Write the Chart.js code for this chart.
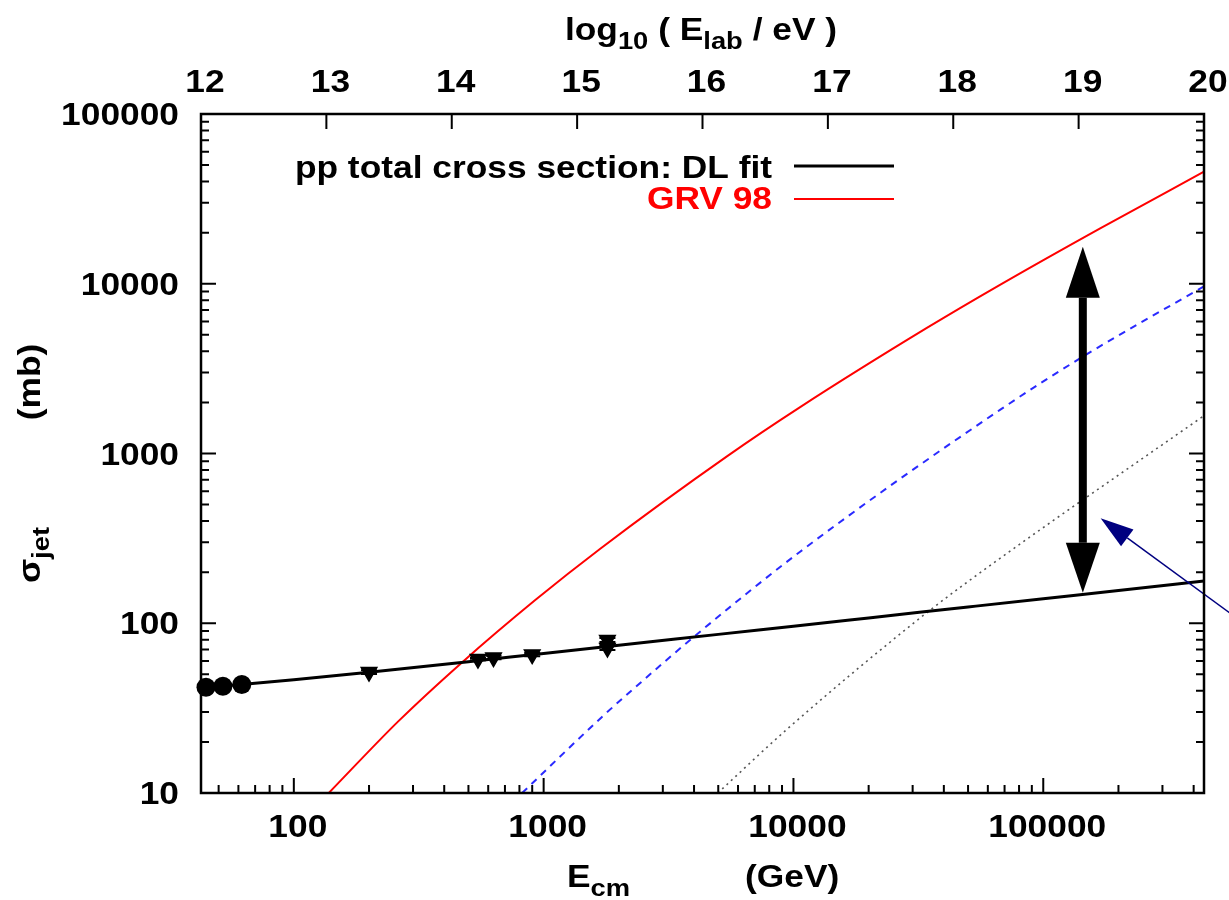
<!DOCTYPE html>
<html>
<head>
<meta charset="utf-8">
<script src="https://cdn.jsdelivr.net/npm/chart.js@4.4.1/dist/chart.umd.min.js"></script>
<style>
  html, body { margin: 0; padding: 0; background: #ffffff; }
  #wrap { width: 1229px; height: 900px; }
</style>
</head>
<body>
<div id="wrap"><canvas id="chart" width="1229" height="900"></canvas></div>
<script>
// ---- values (E_cm in GeV, cross sections in mb) ----
// pp total cross section, DL fit
const dlEnergy = [42.5, 60, 100, 200, 500, 1000, 2000, 5000, 10000, 20000, 50000, 100000, 200000, 440000];
const dlSigma  = [41.7, 43.4, 46.5, 51.5, 59.4, 66.4, 74.1, 86.0, 96.1, 107.5, 124.7, 139.5, 156.0, 177.5];

// jet cross section with GRV 98 parton densities
const grvEnergy = [138, 263, 470, 923, 1680, 5470, 10600, 34200, 67100, 169000, 440000];
const grvSigma  = [10, 26.6, 58.6, 136.5, 274, 972, 1870, 5490, 9850, 21200, 45700];

// higher jet threshold (dashed)
const dashEnergy = [820, 1727, 2320, 4100, 10600, 67100, 149000, 440000];
const dashSigma  = [10, 28.4, 41.8, 85.9, 263, 1807, 3835, 9650];

// highest jet threshold (dotted)
const dotEnergy = [4980, 9530, 34600, 67100, 440000];
const dotSigma  = [10, 24.1, 117, 241, 1670];

// measured total cross sections: ISR (circles)
const isrEnergy = [44.5, 52.0, 61.9];
const isrSigma  = [42.0, 42.5, 43.6];

// measured total cross sections: collider (triangles), with errors
const colEnergy = [200, 546, 630, 900, 1800, 1800];
const colSigma  = [51.6, 61.5, 62.8, 65.4, 79.7, 71.5];
const colError  = [1.3, 0.9, 1.5, 1.4, 2.2, 2.0];

// double arrow between total and jet cross section
const gapArrowEnergy = 144000;
const gapArrowSigma  = [151, 16500];

// pointer arrow (tail leaves the frame on the right)
const pointerTip  = { e: 169700, s: 415 };
const pointerTail = { e: 612000, s: 104 };

// axes
const xRange = [42.5, 440000];
const yRange = [10, 100000];
const xTickValues = [100, 1000, 10000, 100000];
const xTickLabels = ['100', '1000', '10000', '100000'];
const yTickValues = [10, 100, 1000, 10000, 100000];
const yTickLabels = ['10', '100', '1000', '10000', '100000'];
const topTickValues = [12, 13, 14, 15, 16, 17, 18, 19, 20];
const topTickLabels = ['12', '13', '14', '15', '16', '17', '18', '19', '20'];

const zip = (xs, ys) => xs.map((v, i) => ({ x: v, y: ys[i] }));

// ---- text helpers: bold sans, slightly widened, with subscripts ----
const FONT = '"Liberation Sans", Arial, Helvetica, sans-serif';
const SIZE = 31;
const SUB = 24;
const STRETCH = 1.14;

function richText(ctx, parts, x, y, align, color, rot) {
  ctx.save();
  ctx.translate(x, y);
  if (rot) ctx.rotate(rot);
  ctx.fillStyle = color || '#000';
  ctx.textAlign = 'left';
  ctx.textBaseline = 'alphabetic';
  const widths = parts.map(p => {
    ctx.font = `bold ${p.sub ? SUB : SIZE}px ${FONT}`;
    return ctx.measureText(p.t).width * STRETCH;
  });
  const total = widths.reduce((a, b) => a + b, 0);
  let cx = align === 'center' ? -total / 2 : align === 'right' ? -total : 0;
  parts.forEach((p, i) => {
    ctx.save();
    ctx.font = `bold ${p.sub ? SUB : SIZE}px ${FONT}`;
    ctx.translate(cx, p.sub ? 9 : 0);
    ctx.scale(STRETCH, 1);
    ctx.fillText(p.t, 0, 0);
    ctx.restore();
    cx += widths[i];
  });
  ctx.restore();
}
const text = (ctx, s, x, y, align, color, rot) => richText(ctx, [{ t: s }], x, y, align, color, rot);

// ---- error bars on the collider points ----
const errorBars = {
  id: 'errorBars',
  afterDatasetsDraw(chart) {
    const { ctx, scales: { x, y } } = chart;
    ctx.save();
    ctx.strokeStyle = '#000';
    ctx.lineWidth = 2;
    ctx.beginPath();
    colEnergy.forEach((e, i) => {
      const px = x.getPixelForValue(e);
      const lo = y.getPixelForValue(colSigma[i] - colError[i]);
      const hi = y.getPixelForValue(colSigma[i] + colError[i]);
      ctx.moveTo(px, lo); ctx.lineTo(px, hi);
      ctx.moveTo(px - 8, lo); ctx.lineTo(px + 8, lo);
      ctx.moveTo(px - 8, hi); ctx.lineTo(px + 8, hi);
    });
    ctx.stroke();
    ctx.restore();
  }
};

// ---- arrows ----
function arrowHead(ctx, tx, ty, fx, fy, len, half) {
  const ang = Math.atan2(ty - fy, tx - fx);
  const bx = tx - len * Math.cos(ang), by = ty - len * Math.sin(ang);
  ctx.beginPath();
  ctx.moveTo(tx, ty);
  ctx.lineTo(bx + half * Math.sin(ang), by - half * Math.cos(ang));
  ctx.lineTo(bx - half * Math.sin(ang), by + half * Math.cos(ang));
  ctx.closePath();
  ctx.fill();
  return { bx, by };
}

const arrows = {
  id: 'arrows',
  afterDatasetsDraw(chart) {
    const { ctx, scales: { x, y } } = chart;
    ctx.save();
    // double arrow
    const ax = x.getPixelForValue(gapArrowEnergy);
    const yLo = y.getPixelForValue(gapArrowSigma[0]);
    const yHi = y.getPixelForValue(gapArrowSigma[1]);
    ctx.fillStyle = '#000';
    ctx.strokeStyle = '#000';
    const top = arrowHead(ctx, ax, yHi, ax, yLo, 51, 17);
    const bot = arrowHead(ctx, ax, yLo, ax, yHi, 50, 17);
    ctx.lineWidth = 8;
    ctx.beginPath();
    ctx.moveTo(ax, top.by); ctx.lineTo(ax, bot.by);
    ctx.stroke();
    // pointer arrow
    const tx = x.getPixelForValue(pointerTip.e), ty = y.getPixelForValue(pointerTip.s);
    const fx = x.getPixelForValue(pointerTail.e), fy = y.getPixelForValue(pointerTail.s);
    ctx.fillStyle = '#000080';
    ctx.strokeStyle = '#000080';
    const h = arrowHead(ctx, tx, ty, fx, fy, 33, 10.5);
    ctx.lineWidth = 1.5;
    ctx.beginPath();
    ctx.moveTo(fx, fy); ctx.lineTo(h.bx, h.by);
    ctx.stroke();
    ctx.restore();
  }
};

// ---- frame, ticks, tick labels, titles, key ----
const frame = {
  id: 'frame',
  afterDraw(chart) {
    const { ctx, chartArea: a, scales: { x, y, xTop } } = chart;
    ctx.save();
    ctx.strokeStyle = '#000';
    ctx.lineWidth = 2;
    ctx.beginPath();
    // y: major and minor log ticks, both sides, inward
    for (let k = 1; k <= 5; k++) {
      for (let m = 1; m <= 9; m++) {
        const v = m * Math.pow(10, k);
        if (v > yRange[1]) break;
        const py = y.getPixelForValue(v);
        const len = m === 1 ? 15 : 8;
        ctx.moveTo(a.left, py); ctx.lineTo(a.left + len, py);
        ctx.moveTo(a.right, py); ctx.lineTo(a.right - len, py);
      }
    }
    // bottom: log ticks
    for (let k = 1; k <= 5; k++) {
      for (let m = 1; m <= 9; m++) {
        const v = m * Math.pow(10, k);
        if (v < xRange[0] || v > xRange[1]) continue;
        const px = x.getPixelForValue(v);
        const len = m === 1 ? 15 : 8;
        ctx.moveTo(px, a.bottom); ctx.lineTo(px, a.bottom - len);
      }
    }
    // top: log10(E_lab/eV) ticks
    topTickValues.forEach(v => {
      const px = xTop.getPixelForValue(v);
      ctx.moveTo(px, a.top); ctx.lineTo(px, a.top + 15);
    });
    ctx.stroke();
    ctx.lineWidth = 2.5;
    ctx.strokeRect(a.left, a.top, a.right - a.left, a.bottom - a.top);

    // tick labels
    yTickValues.forEach((v, i) => text(ctx, yTickLabels[i], a.left - 22, y.getPixelForValue(v) + 11, 'right'));
    xTickValues.forEach((v, i) => text(ctx, xTickLabels[i], x.getPixelForValue(v) + 4, a.bottom + 44, 'center'));
    topTickValues.forEach((v, i) => text(ctx, topTickLabels[i], xTop.getPixelForValue(v) + 4, a.top - 22, 'center'));

    // axis titles
    richText(ctx, [{ t: 'log' }, { t: '10', sub: true }, { t: ' ( E' }, { t: 'lab', sub: true }, { t: ' / eV )' }], 701, 40, 'center');
    richText(ctx, [{ t: 'E' }, { t: 'cm', sub: true }], 567, 887, 'left');
    text(ctx, '(GeV)', 745, 887, 'left');
    richText(ctx, [{ t: 'σ' }, { t: 'jet', sub: true }], 40, 555, 'center', '#000', -Math.PI / 2);
    text(ctx, '(mb)', 40, 382, 'center', '#000', -Math.PI / 2);

    // key
    const keyRows = [
      { ds: chart.data.datasets[0], baseline: 178, lineY: 166 },
      { ds: chart.data.datasets[1], baseline: 209, lineY: 199 }
    ];
    keyRows.forEach(r => {
      text(ctx, r.ds.label, 772, r.baseline, 'right', r.ds.borderColor);
      ctx.strokeStyle = r.ds.borderColor;
      ctx.lineWidth = r.ds.borderWidth;
      ctx.beginPath();
      ctx.moveTo(794, r.lineY); ctx.lineTo(894, r.lineY);
      ctx.stroke();
    });
    ctx.restore();
  }
};

const curve = { showLine: true, pointRadius: 0, fill: false, cubicInterpolationMode: 'monotone' };

new Chart(document.getElementById('chart'), {
  type: 'scatter',
  data: {
    datasets: [
      { ...curve, label: 'pp total cross section: DL fit', data: zip(dlEnergy, dlSigma), borderColor: '#000000', borderWidth: 3, order: 1 },
      { ...curve, label: 'GRV 98', data: zip(grvEnergy, grvSigma), borderColor: '#ff0000', borderWidth: 2, order: 2 },
      { ...curve, label: 'dashed', data: zip(dashEnergy, dashSigma), borderColor: '#2a2aff', borderWidth: 2, borderDash: [7, 6], order: 3 },
      { ...curve, label: 'dotted', data: zip(dotEnergy, dotSigma), borderColor: '#555555', borderWidth: 1.6, borderDash: [2, 4], order: 4 },
      { label: 'ISR', data: zip(isrEnergy, isrSigma), pointStyle: 'circle', pointRadius: 9.5, backgroundColor: '#000', borderColor: '#000', borderWidth: 0, clip: false, order: 0 },
      { label: 'collider', data: zip(colEnergy, colSigma), pointStyle: 'triangle', pointRotation: 180, pointRadius: 9, backgroundColor: '#000', borderColor: '#000', borderWidth: 1.5, clip: false, order: 0 }
    ]
  },
  options: {
    responsive: false,
    animation: false,
    devicePixelRatio: 1,
    layout: { padding: { left: 201, right: 25, top: 114, bottom: 107 } },
    plugins: { legend: { display: false }, tooltip: { enabled: false } },
    scales: {
      x: { type: 'logarithmic', min: xRange[0], max: xRange[1], display: false },
      y: { type: 'logarithmic', min: yRange[0], max: yRange[1], display: false },
      xTop: { type: 'linear', axis: 'x', position: 'top', min: 12, max: 20, display: false }
    }
  },
  plugins: [errorBars, arrows, frame]
});
</script>
</body>
</html>
